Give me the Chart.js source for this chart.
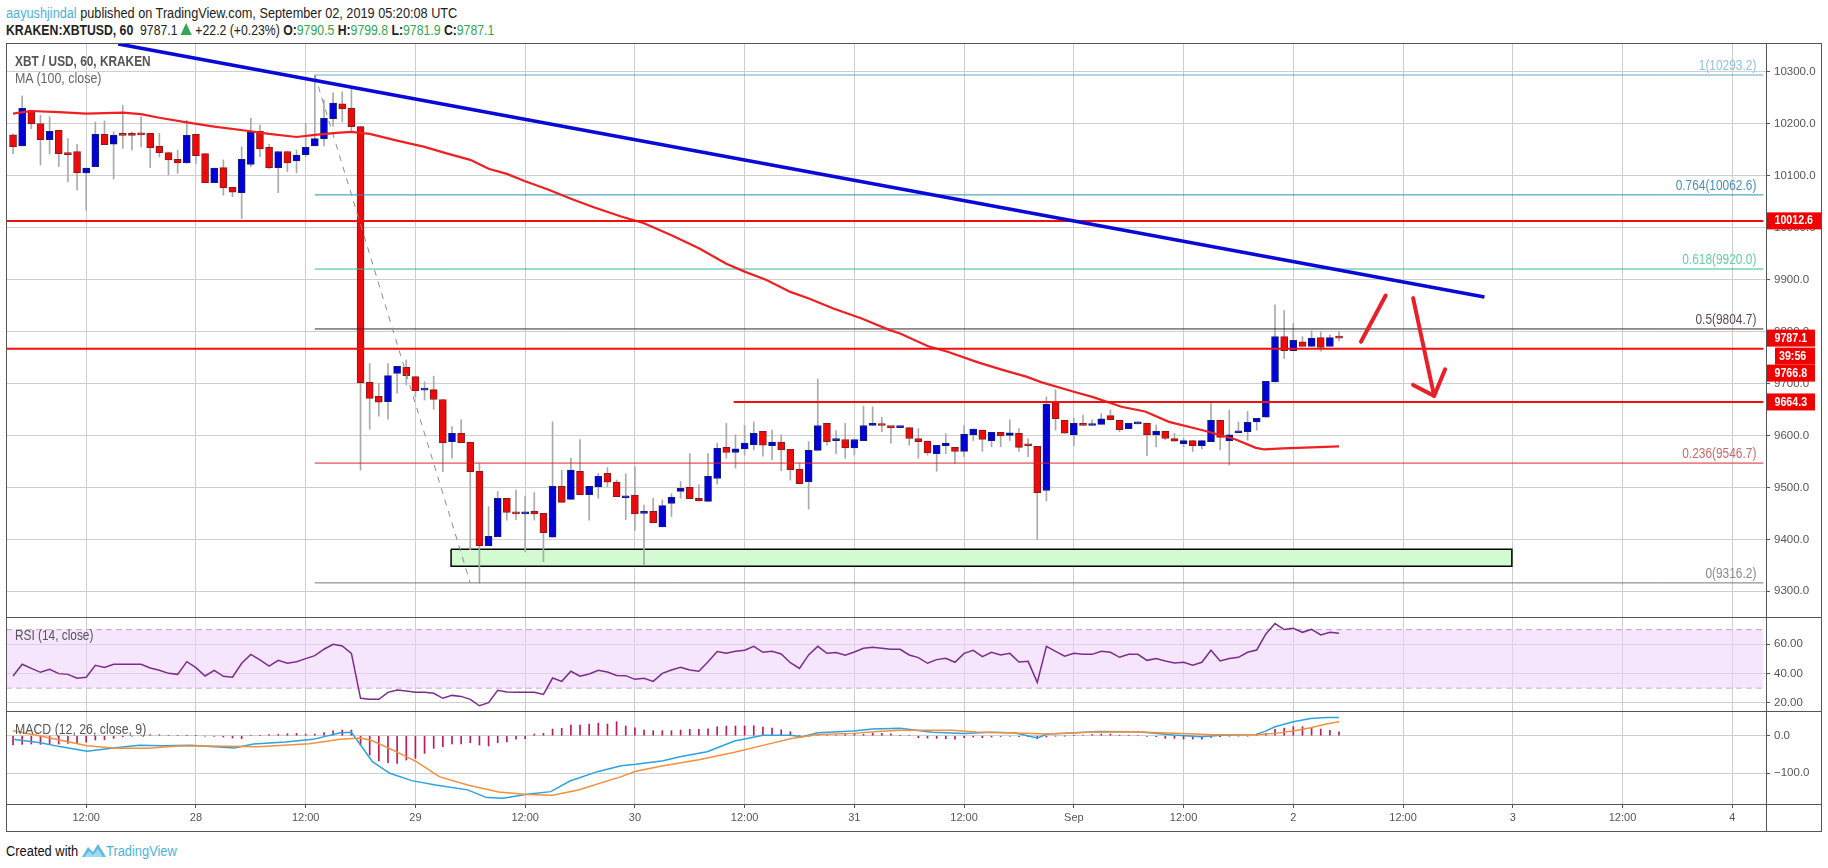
<!DOCTYPE html>
<html>
<head>
<meta charset="utf-8">
<title>XBTUSD</title>
<script src="https://cdn.jsdelivr.net/npm/chart.js@4"></script>
<style>
html,body{margin:0;padding:0;background:#fff;width:1828px;height:868px;overflow:hidden}
body{font-family:"Liberation Sans",sans-serif;position:relative}
canvas{position:absolute;left:6px}
.t{position:absolute;white-space:nowrap;line-height:1;transform-origin:left top}
.rule{position:absolute;background:#555}
.g{color:#2fa84f}
.tri{display:inline-block;width:0;height:0;border-left:7px solid transparent;border-right:7px solid transparent;border-bottom:12px solid #2fa84f}
</style>
</head>
<body>
<div class="t" style="left:6px;top:5px;font-size:15.5px;color:#222;transform:scaleX(.82)"><span style="color:#4db2dc">aayushjindal</span> published on TradingView.com, September 02, 2019 05:20:08 UTC</div>
<div class="t" style="left:6px;top:22px;font-size:15.5px;color:#222;transform:scaleX(.79)"><b>KRAKEN:XBTUSD, 60</b> &nbsp;9787.1 <span class="tri"></span> +22.2 (+0.23%) <b>O:</b><span class="g">9790.5</span> <b>H:</b><span class="g">9799.8</span> <b>L:</b><span class="g">9781.9</span> <b>C:</b><span class="g">9787.1</span></div>

<canvas id="mainChart" width="1816" height="574" style="top:43px"></canvas>
<canvas id="rsiChart" width="1816" height="94" style="top:617px"></canvas>
<canvas id="macdChart" width="1816" height="120" style="top:711px"></canvas>

<div class="t" style="left:15px;top:53px;font-size:15px;font-weight:bold;color:#555;transform:scaleX(.79)">XBT / USD, 60, KRAKEN</div>
<div class="t" style="left:15px;top:70px;font-size:15px;color:#666;transform:scaleX(.83)">MA (100, close)</div>
<div class="t" style="left:15px;top:627px;font-size:15px;color:#555;transform:scaleX(.79)">RSI (14, close)</div>
<div class="t" style="left:15px;top:721px;font-size:15px;color:#555;transform:scaleX(.82)">MACD (12, 26, close, 9)</div>

<div class="rule" style="left:6px;top:43px;width:1816px;height:1px"></div>
<div class="rule" style="left:6px;top:617px;width:1816px;height:1px"></div>
<div class="rule" style="left:6px;top:711px;width:1816px;height:1px"></div>
<div class="rule" style="left:6px;top:804px;width:1816px;height:1px"></div>
<div class="rule" style="left:6px;top:831px;width:1816px;height:1px"></div>
<div class="rule" style="left:6px;top:43px;width:1px;height:788px"></div>
<div class="rule" style="left:1766px;top:43px;width:1px;height:788px"></div>
<div class="rule" style="left:1821px;top:43px;width:1px;height:788px"></div>

<div class="t" style="left:6px;top:843px;font-size:15.5px;color:#111;transform:scaleX(.83)">Created with</div>
<svg style="position:absolute;left:82px;top:842px" width="24" height="16" viewBox="0 0 24 16">
  <path d="M0 15 L6 5 L11 10 L16 2 L24 15 Z" fill="#5bbbe0"/>
  <path d="M2 15 L7 9 L11 13 L16 7 L21 15 Z" fill="#9fd9ef"/>
</svg>
<div class="t" style="left:106px;top:843px;font-size:15.5px;color:#4db2dc;transform:scaleX(.83)">TradingView</div>

<script>
// hourly bars, first one is Aug 27 04:00, x axis counts hours from Aug 27 00:00
const firstBarHour = 4;
const opens = [
  10178,10157,10225,10200,10169,10187,10143,10146,10105,10117,
  10179,10160,10179,10178,10181,10181,10156,10144,10131,10124,
  10179,10142,10086,10115,10077,10067,10121,10185,10154,10115,
  10146,10128,10140,10157,10171,10209,10238,10229,10194,9702,
  9675,9665,9719,9731,9713,9687,9688,9669,9588,9604,
  9587,9531,9388,9405,9479,9452,9449,9454,9450,9404,
  9502,9477,9531,9486,9501,9527,9510,9480,9485,9450,
  9454,9424,9469,9492,9500,9479,9473,9517,9577,9567,
  9574,9582,9608,9580,9587,9573,9535,9511,9571,9623,
  9590,9592,9576,9590,9619,9621,9617,9615,9615,9594,
  9589,9565,9580,9577,9569,9601,9610,9590,9606,9600,
  9604,9583,9579,9494,9663,9629,9601,9623,9619,9621,
  9638,9629,9613,9622,9623,9601,9608,9594,9584,9590,
  9580,9588,9629,9590,9605,9607,9626,9635,9703,9790,
  9763,9780,9771,9788,9771,9790.5
];
const highs = [
  10180,10253,10226,10216,10213,10187,10171,10160,10114,10203,
  10205,10184,10235,10184,10213,10181,10181,10144,10149,10206,
  10179,10142,10114,10130,10077,10155,10210,10197,10160,10146,
  10146,10149,10200,10293,10245,10259,10261,10267,10194,9738,
  9700,9738,9733,9745,9713,9703,9714,9669,9617,9630,
  9587,9546,9463,9492,9479,9495,9483,9490,9450,9626,
  9533,9556,9592,9502,9527,9538,9514,9526,9540,9466,
  9479,9476,9488,9511,9565,9505,9565,9585,9623,9601,
  9619,9626,9608,9610,9601,9573,9547,9588,9708,9623,
  9609,9623,9592,9656,9655,9635,9617,9617,9615,9613,
  9589,9581,9603,9577,9619,9612,9610,9606,9606,9630,
  9613,9594,9579,9674,9688,9629,9633,9639,9630,9642,
  9649,9629,9623,9626,9623,9620,9608,9604,9594,9590,
  9590,9663,9629,9649,9626,9646,9633,9704,9851,9840,
  9815,9790,9801,9799,9793,9799.8
];
const lows = [
  10142,10157,10190,10120,10141,10117,10088,10072,10033,10117,
  10159,10093,10152,10149,10155,10115,10136,10101,10104,10124,
  10123,10086,10086,10062,10059,10017,10117,10136,10113,10067,
  10107,10105,10136,10157,10157,10195,10203,10184,9533,9612,
  9637,9631,9681,9697,9674,9668,9650,9530,9556,9586,
  9380,9316,9388,9405,9437,9438,9376,9437,9357,9404,
  9471,9477,9486,9437,9479,9501,9482,9438,9417,9351,
  9432,9424,9444,9479,9478,9474,9473,9506,9556,9537,
  9562,9572,9560,9553,9532,9514,9507,9458,9571,9581,
  9565,9556,9562,9590,9619,9607,9585,9615,9581,9556,
  9562,9531,9565,9546,9559,9590,9569,9578,9578,9590,
  9569,9559,9400,9474,9610,9604,9580,9619,9619,9621,
  9630,9607,9613,9622,9561,9578,9592,9589,9578,9569,
  9574,9588,9572,9543,9605,9591,9610,9635,9703,9748,
  9763,9771,9771,9762,9771,9781.9
];
const closes = [
  10155,10229,10199,10169,10185,10142,10140,10105,10114,10179,
  10159,10177,10177,10177,10178,10153,10144,10130,10124,10177,
  10138,10086,10114,10076,10068,10131,10183,10151,10115,10146,
  10124,10139,10154,10171,10210,10239,10228,10194,9701,9671,
  9664,9715,9733,9715,9686,9688,9669,9586,9604,9586,
  9530,9388,9406,9479,9452,9449,9451,9449,9413,9502,
  9471,9533,9486,9502,9521,9510,9482,9482,9449,9452,
  9432,9465,9481,9498,9478,9474,9521,9575,9567,9574,
  9585,9604,9581,9587,9572,9534,9507,9571,9619,9588,
  9592,9576,9592,9619,9623,9619,9615,9617,9594,9588,
  9566,9581,9585,9569,9602,9612,9592,9606,9599,9605,
  9577,9580,9490,9660,9632,9604,9623,9619,9621,9632,
  9630,9611,9623,9624,9601,9608,9594,9589,9590,9580,
  9590,9629,9596,9601,9608,9625,9633,9704,9790,9763,
  9783,9771,9787,9769,9788,9787.1
];

// MA(100), read at the bends of the curve
const maHours = [4,6,9,12,16,18,20,23,26,30,32,35,37,39.4,41,43,46,49,51.5,54,56,58,60,62.5,65,67.5,70.5,73,76,79,82,84,86.4,89,91.1,93.7,96.8,99.8,101,104,106.2,109.6,112.2,114.8,116.5,120,122.2,125.2,127.8,130.4,134.3,137.7,139.9,140.8,142.9,146,149];
const maValues = [10219,10224,10222,10219,10221,10218,10211,10202,10194,10185,10180,10174,10178,10182,10184,10180,10167,10155,10142,10130,10113,10103,10089,10073,10055,10039,10021,10008,9985,9960,9930,9915,9899,9876,9863,9844,9825,9803,9796,9772,9761,9740,9726,9713,9702,9684,9673,9655,9646,9626,9609,9592,9576,9573,9575,9577,9579];

// drawings on the price pane
const trendHours = [15.5,164.9];
const trendValues = [10353,9866];
const fibStartHour = 37;
const fibEndHour = 195.4;
const fibValues = [10293.2,10062.6,9920,9804.7,9546.7,9316.2];
const fibLabels = ['1(10293.2)','0.764(10062.6)','0.618(9920.0)','0.5(9804.7)','0.236(9546.7)','0(9316.2)'];
const fibLineColors = ['#6aa9c9','#2e8fb5','#35b89a','#33262f','#d9262c','#777777'];
const fibTextColors = ['#93c2dc','#4a8fbb','#66cfa8','#5a4a5a','#c96a6a','#8a8a8a'];
const fibDashHours = [37,54];
const fibDashValues = [10293.2,9316.2];
const levelValues = [10012.6,9766.8,9664.3];
const levelStartHours = [3.23,3.23,82.8];
const zoneHours = [51.9,167.9];
const zoneValues = [9380.8,9348];
const arrowUpHours = [151.4,154.1];
const arrowUpValues = [9780,9869];
const arrowDownHours = [157.1,159.4];
const arrowDownValues = [9864,9676];
const arrowHeadHours = [157.1,159.4,160.6];
const arrowHeadValues = [9697,9676,9727];

// RSI per bar
const rsiValues = [
  38.3,46.3,43.5,40.8,42.9,39.9,39.4,36.7,37.4,45.6,
  44.2,46.3,46.3,46.3,46.3,43.8,42.2,40.1,39.4,48.1,
  44,38.3,42.2,38.1,37.4,47,53.1,49.3,45.1,49,
  47,48.1,50.2,52.2,56.6,60,58.9,53.8,23,22.3,
  22.3,27.1,28.7,28,27.1,27.1,26.4,23,25,24.3,
  22.3,17.9,20,28.5,27.3,27.1,27.1,27.1,25.7,36.9,
  34.6,41.5,38.1,39.7,42.2,41,38.7,38.5,36,36.7,
  34.6,40.1,42.4,44.2,42.4,41.5,48.1,55,53.8,55.2,
  55.9,58.6,54.5,55.2,53.4,47.4,43.5,52.7,58.6,53.8,
  54.3,52.5,54.7,57.3,57.9,57.3,56.6,56.6,52.7,50.9,
  47,49.5,50.4,47.7,53.8,55.9,51.5,54.5,52.7,53.8,
  47.9,48.3,33.9,58.6,55.2,51.8,53.8,53.1,53.1,55.2,
  54.5,51.1,53.1,53.1,49,50.2,48.6,47.2,47.7,45.6,
  47.7,55.9,48.6,50.2,51.1,54.5,56.1,67.1,74.2,70.1,
  71,68.2,70.3,66.4,68.2,67.5
];
const rsiUpper = 70;
const rsiLower = 30;
const rsiBandHours = [3.23,195.4];

// MACD histogram per bar, the two lines at their bends
const histValues = [
  -24.8,-23,-22.1,-23,-23,-22.1,-20.4,-18.6,-16.8,-11.5,
  -10.6,-7.1,-2.7,-0.9,1.8,2.7,2.7,0,0,0.9,
  0.9,-0.9,-1.8,-3.5,-6.2,-8,0,0.9,2.7,3.5,
  5.3,6.2,4.4,4.4,8,13.3,15,15,-24.8,-51.3,
  -67.3,-71.7,-73.5,-64.6,-60.2,-46.9,-33.6,-29.2,-22.1,-22.1,
  -18.6,-24.8,-27.4,-18.6,-16.8,-8.9,-8,4.4,6.2,17.7,
  19.5,28.3,28.3,31,33.6,31,37.2,25.7,21.2,15,
  13.3,13.3,13.3,15,16.8,16.8,18.6,23.9,25.7,25.7,
  25.7,26.6,23,20.4,15.9,10.6,0,-0.9,2.7,1.8,
  1.8,3.5,4.4,3.5,7.1,6.2,5.3,0.9,0,-5.3,
  -6.2,-7.1,-8,-8.9,-5.3,-3.5,-5.3,-3.5,-2,-1.5,
  -2.7,-2.7,-8,-3.5,-1,-0.5,0.9,1.8,2.7,4.4,
  4.4,0.9,0,0,-1.8,-2.7,-7.1,-7.1,-8.9,-8.9,
  -8.9,-4.4,-2.7,-0.9,-0.9,-0.9,0.9,6.2,16.8,20.4,
  23.9,23.9,22.1,17.7,14.2,10.6
];
const macdHours = [4,7,9.1,12.1,15.2,17.8,20.4,23.4,25.6,28.2,30.3,33.8,36.8,39.8,41,42,43.3,45.2,47.6,50.2,53.7,55.8,57.6,60.2,62.8,64.9,67.9,70.5,72.1,75.1,76.9,79.9,82.9,86,89,90.3,92,95.9,98,101,104.5,108,111,113.6,116,117.1,119.7,122.7,127,130.9,133.9,136.1,139.9,140.9,142,144,145.9,147.6,149];
const macdValues = [-9.7,-18.6,-29,-41.6,-32,-25.7,-26.6,-25.7,-29,-32.7,-22,-16.8,-9.7,8,8.9,-24.8,-69,-100,-119.5,-131,-144,-164.6,-166.4,-155.8,-148.7,-120.4,-95.6,-79.7,-76,-66.4,-55.8,-42.5,-14.2,0.9,0.9,-2.7,8,12.4,17.7,19.5,8.9,6.2,8.9,7.1,-6.2,4.4,7.1,11.5,10.6,1.8,-2.7,0.9,3.5,11.5,23.9,37.2,46,48.7,48.7];
const signalHours = [4,7,9.1,12.1,15.2,18.7,22.1,25.6,30.8,36.4,39.8,42,43.3,45.9,48.1,50.6,53.7,57.1,60.2,63,65.8,70.5,72.1,75.1,79,82.9,86,89,92,95.9,98.5,101,106.7,109.3,112.7,117.1,121.4,126.6,131.8,135.2,139.9,142,144,145.9,147.6,149];
const signalValues = [13.3,-0.9,-11.5,-26.6,-33.6,-33.6,-27.4,-27.4,-29.2,-21.2,-9.7,-6.2,-13.3,-42.5,-69,-108.9,-131,-149.6,-156.6,-158.4,-144.3,-108.9,-94.7,-79.7,-63.7,-44.2,-25.7,-8,3.5,6.2,11.5,14.2,14.2,9.7,8,4.4,8.9,10.6,6.2,2.7,2.7,6.2,12.4,21.2,31,37.2];

// axes
const hourMin = 3.23;
const hourMax = 195.69;
const timeTickHours = [12,24,36,48,60,72,84,96,108,120,132,144,156,168,180,192];
const timeTickLabels = ['12:00','28','12:00','29','12:00','30','12:00','31','12:00','Sep','12:00','2','12:00','3','12:00','4'];
const priceTicks = [9300,9400,9500,9600,9700,9800,9900,10000,10100,10200,10300];
const rsiTicks = [20,40,60];
const macdTicks = [-100,0];

// price badges on the right axis
const badgeValues = [10012.6,9787.1,9664.3];
const badgeLabels = ['10012.6','9787.1','9664.3'];
const countdownLabel = '39:56';
const stackedLabel = '9766.8';

const AXIS_W = 56;
const GRID = '#cfcfcf';
const TICK_TEXT = '#555';
const FONT = '"Liberation Sans",sans-serif';

const pts = (xs, ys) => xs.map((x,i)=>({x, y:ys[i]}));
const barHours = opens.map((_,i)=>firstBarHour+i);

function lineSet(data, color, width, extra){
  return Object.assign({type:'line', data, borderColor:color, borderWidth:width, pointRadius:0, tension:0, fill:false}, extra||{});
}

// chart.js insets the plot for half a tick label, the panes here run edge to edge
function noMargins(s){
  s.paddingTop = s.paddingBottom = s.paddingLeft = s.paddingRight = 0;
}

function xAxis(showLabels){
  return {
    type:'linear', min:hourMin, max:hourMax, offset:false,
    afterBuildTicks: s => { s.ticks = timeTickHours.map(v=>({value:v})); },
    afterFit: s => { s.height = showLabels ? 27 : 0; noMargins(s); },
    grid:{color:GRID, offset:false, drawTicks:showLabels, tickLength:4, tickColor:'#555'},
    border:{display:false},
    ticks:{
      display:showLabels, color:TICK_TEXT, font:{family:FONT, size:11}, padding:3, maxRotation:0, autoSkip:false,
      callback:(v)=> timeTickLabels[timeTickHours.indexOf(v)] || ''
    }
  };
}

function yAxis(min, max, tickVals, digits){
  return {
    position:'right', min, max,
    afterBuildTicks: s => { s.ticks = tickVals.map(v=>({value:v})); },
    afterFit: s => { s.width = AXIS_W; noMargins(s); },
    grid:{color:GRID, tickLength:4, tickColor:'#555'},
    border:{display:false},
    ticks:{color:TICK_TEXT, font:{family:FONT, size:11.5}, padding:4, autoSkip:false, callback:v=> v.toFixed(digits).replace('-','−')}
  };
}

const baseOptions = {
  responsive:false, animation:false, devicePixelRatio:1, events:[],
  layout:{padding:0},
  plugins:{legend:{display:false}, tooltip:{enabled:false}}
};

function squeezedText(ctx, text, x, y, sx){
  ctx.save();
  ctx.translate(x, y);
  ctx.scale(sx, 1);
  ctx.fillText(text, 0, 0);
  ctx.restore();
}

function badge(ctx, text, x, cy, w, textX){
  ctx.fillStyle = '#f00000';
  ctx.fillRect(x, cy-8.5, w, 17);
  ctx.fillStyle = '#fff';
  squeezedText(ctx, text, textX, cy, .82);
}

// fib labels and the red price badges, placed through the scales
const mainOverlay = {
  id:'mainOverlay',
  afterDraw(chart){
    const {ctx, scales} = chart;
    const y = scales.y, x = scales.x;
    ctx.save();
    ctx.font = '14px '+FONT;
    ctx.textAlign = 'right';
    ctx.textBaseline = 'bottom';
    fibValues.forEach((v,i)=>{
      ctx.fillStyle = fibTextColors[i];
      squeezedText(ctx, fibLabels[i], x.getPixelForValue(fibEndHour)-7, y.getPixelForValue(v)-2, .85);
    });
    const left = chart.chartArea.right;
    ctx.font = 'bold 13px '+FONT;
    ctx.textAlign = 'left';
    ctx.textBaseline = 'middle';
    badgeValues.forEach((v,i)=>{
      badge(ctx, badgeLabels[i], left, y.getPixelForValue(v), i===0 ? 55 : 49, left+8.5);
    });
    // last price pushes the countdown and the 9766.8 badge down, like the axis stacks them
    const py = y.getPixelForValue(badgeValues[1]);
    badge(ctx, countdownLabel, left+9, py+18, 40, left+13);
    badge(ctx, stackedLabel, left, py+35, 49, left+8.5);
    ctx.restore();
  }
};

const mainDatasets = [];
// zone first so candles stay on top
mainDatasets.push(lineSet(pts([zoneHours[0],zoneHours[1],zoneHours[1],zoneHours[0],zoneHours[0]],[zoneValues[0],zoneValues[0],zoneValues[1],zoneValues[1],zoneValues[0]]),'#000',1.5,{fill:'shape',backgroundColor:'#d2fbd2',order:30}));
mainDatasets.push({type:'bar', data:barHours.map((h,i)=>({x:h,y:[lows[i],highs[i]]})), backgroundColor:'#aaaaaa', barThickness:1, grouped:false, order:20});
mainDatasets.push({type:'bar', data:barHours.map((h,i)=>({x:h,y:[opens[i],closes[i]]})),
  backgroundColor:barHours.map((_,i)=>closes[i]>=opens[i]?'#0000d8':'#ee0a0a'),
  borderColor:barHours.map((_,i)=>closes[i]>=opens[i]?'#10207a':'#8a1a1a'),
  borderWidth:1, borderSkipped:false, barThickness:7, minBarLength:2, grouped:false, order:15});
fibValues.forEach((v,i)=>{
  mainDatasets.push(lineSet(pts([fibStartHour,fibEndHour],[v,v]),fibLineColors[i],1,{order:10}));
});
mainDatasets.push(lineSet(pts(fibDashHours,fibDashValues),'#8c8c8c',1,{borderDash:[6,6],order:9}));
mainDatasets.push(lineSet(pts(maHours,maValues),'#ee2020',2.2,{order:8}));
levelValues.forEach((v,i)=>{
  mainDatasets.push(lineSet(pts([levelStartHours[i],fibEndHour],[v,v]),'#f01010',2,{order:7}));
});
mainDatasets.push(lineSet(pts(trendHours,trendValues),'#0a0ad8',3.5,{order:6}));
mainDatasets.push(lineSet(pts(arrowUpHours,arrowUpValues),'#e8202a',4,{order:5,borderCapStyle:'round'}));
mainDatasets.push(lineSet(pts(arrowDownHours,arrowDownValues),'#e8202a',4,{order:5,borderCapStyle:'round'}));
mainDatasets.push(lineSet(pts(arrowHeadHours,arrowHeadValues),'#e8202a',4,{order:5,borderCapStyle:'round',borderJoinStyle:'round'}));

new Chart(document.getElementById('mainChart'), {
  data:{datasets:mainDatasets},
  options:Object.assign({}, baseOptions, {scales:{x:xAxis(false), y:yAxis(9250.6,10354.8,priceTicks,1)}}),
  plugins:[mainOverlay]
});

new Chart(document.getElementById('rsiChart'), {
  data:{datasets:[
    lineSet(pts(barHours,rsiValues),'#7b2d8e',1.5,{order:1}),
    lineSet(pts(rsiBandHours,[rsiUpper,rsiUpper]),'#b9a3c9',1,{borderDash:[6,4],fill:'+1',backgroundColor:'rgba(236,208,252,0.55)',order:3}),
    lineSet(pts(rsiBandHours,[rsiLower,rsiLower]),'#b9a3c9',1,{borderDash:[6,4],order:3})
  ]},
  options:Object.assign({}, baseOptions, {scales:{x:xAxis(false), y:yAxis(14.3,78.7,rsiTicks,2)}})
});

new Chart(document.getElementById('macdChart'), {
  data:{datasets:[
    {type:'bar', data:barHours.map((h,i)=>({x:h,y:[0,histValues[i]]})), backgroundColor:'#c2185b', barThickness:1, grouped:false, order:5},
    lineSet(pts(signalHours,signalValues),'#f5903d',1.5,{order:2}),
    lineSet(pts(macdHours,macdValues),'#2ca3e0',1.5,{order:3})
  ]},
  options:Object.assign({}, baseOptions, {scales:{x:xAxis(true), y:yAxis(-181.6,65.7,macdTicks,1)}})
});
</script>
</body>
</html>
